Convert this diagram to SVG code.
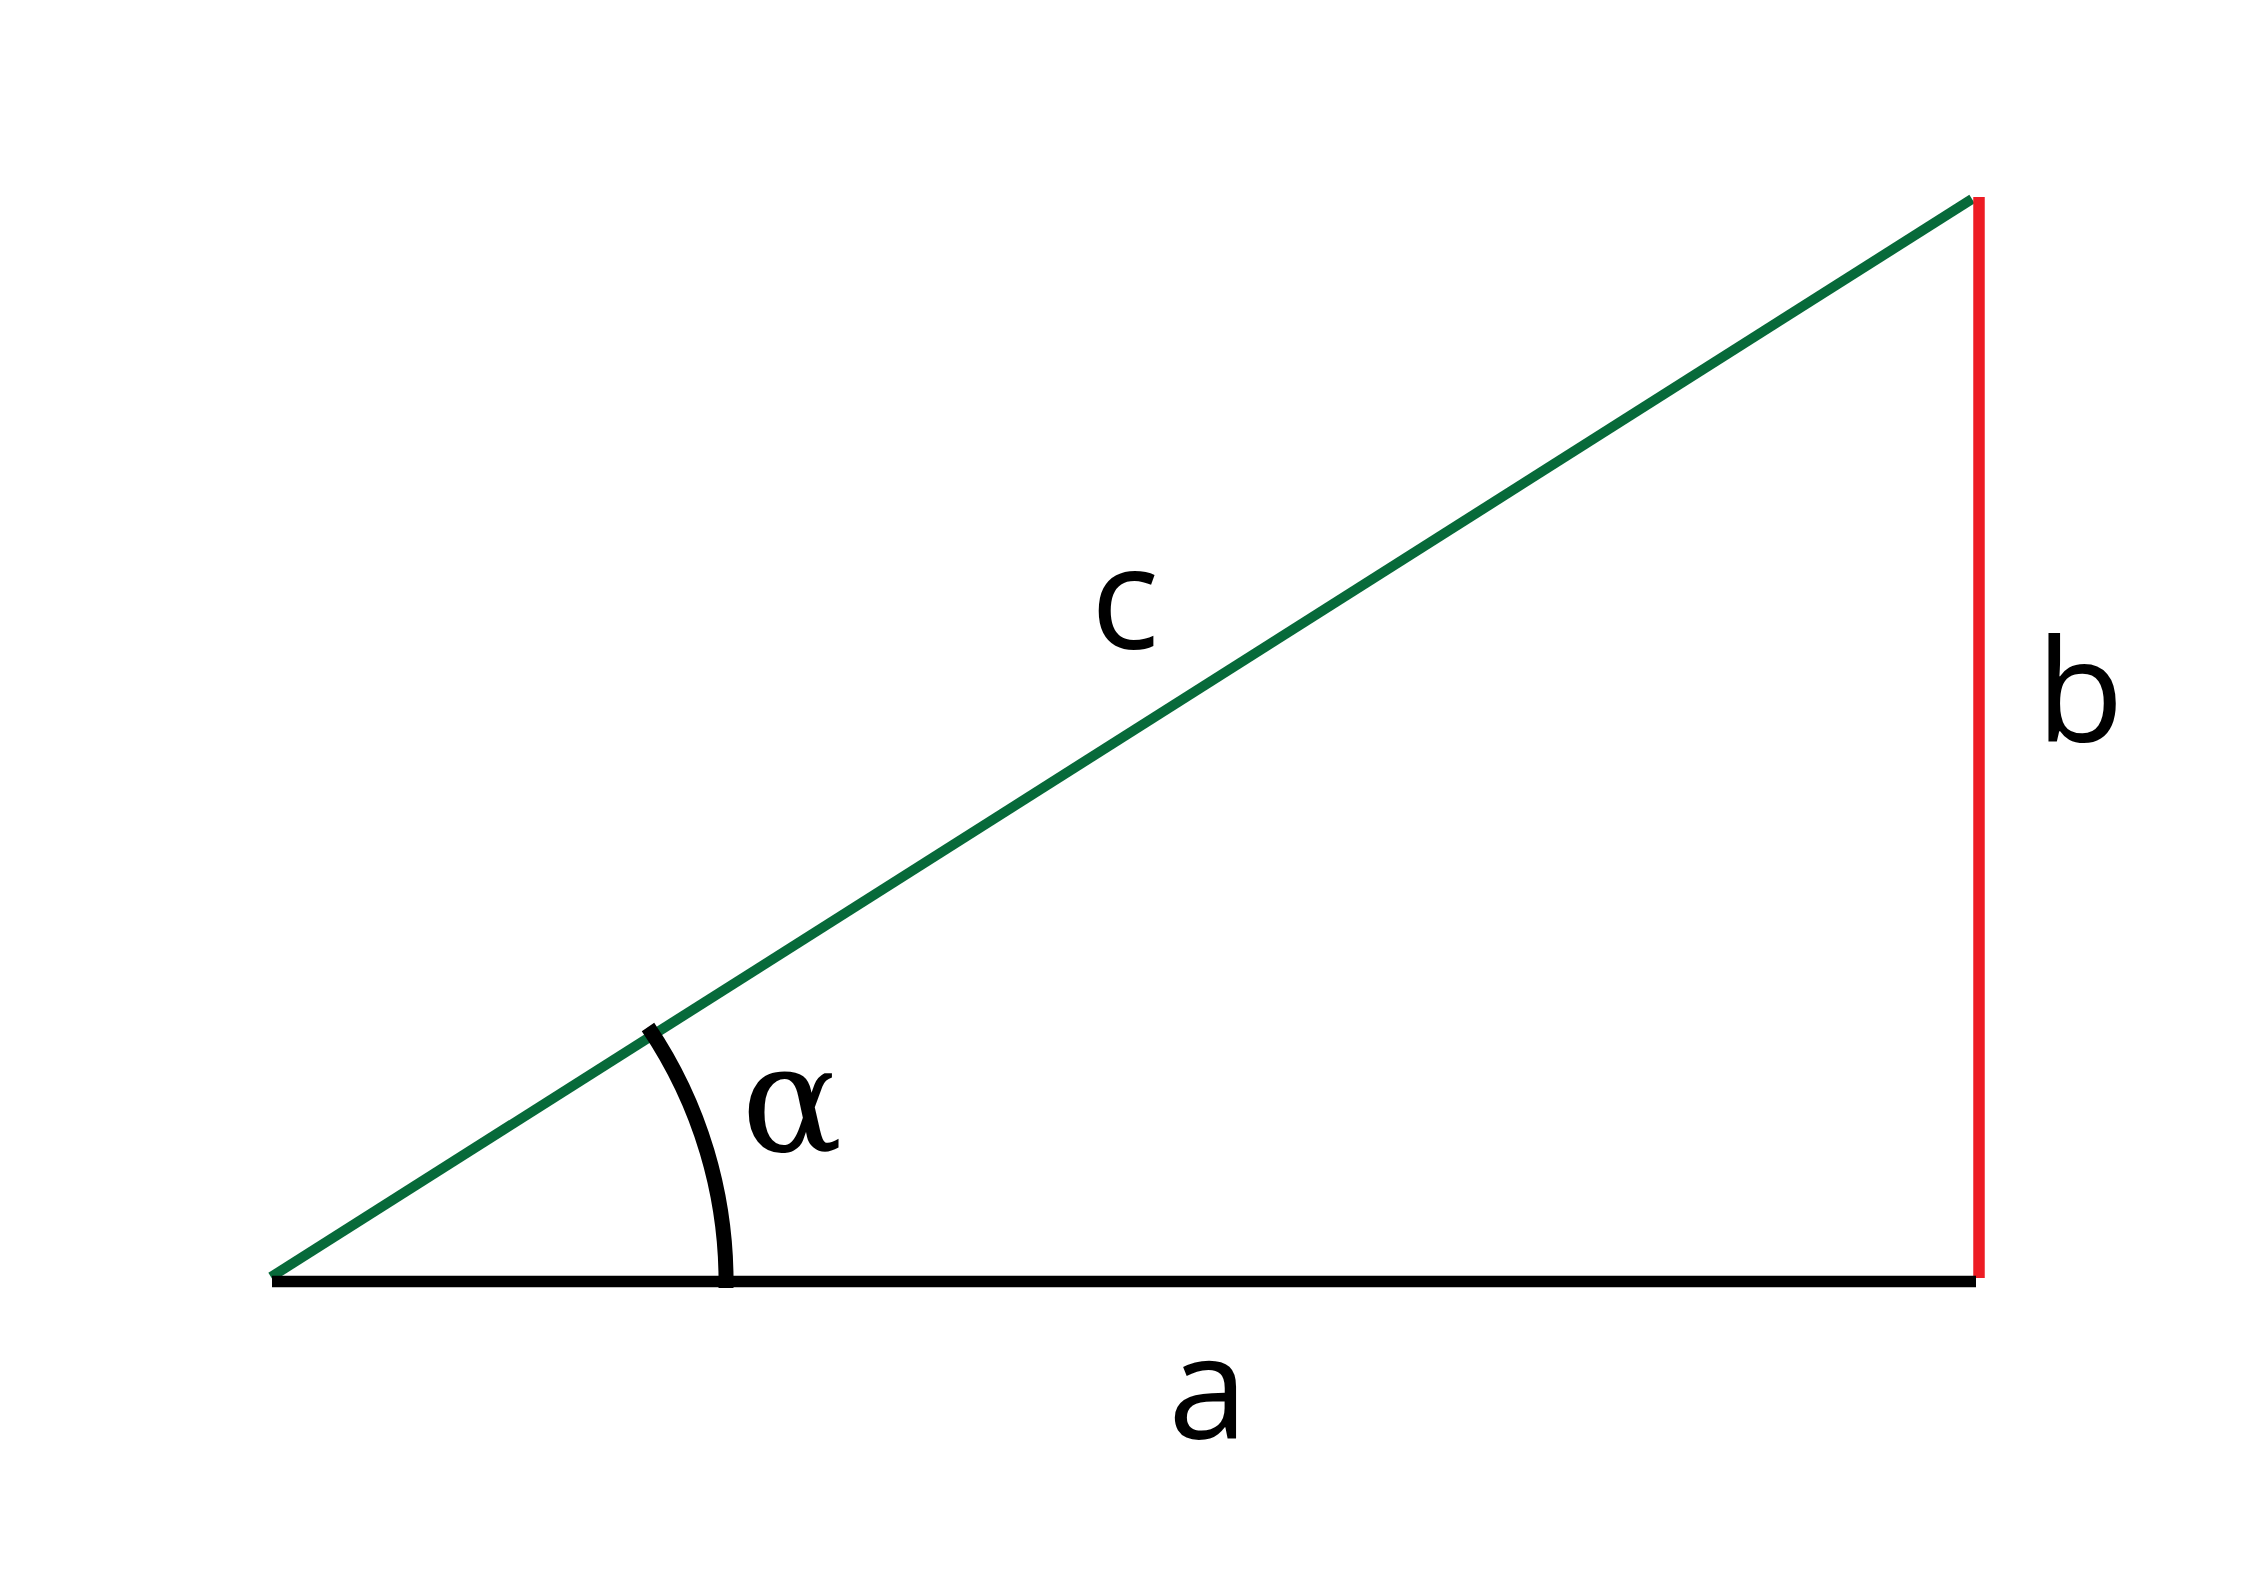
<svg xmlns="http://www.w3.org/2000/svg" width="2245" height="1587" viewBox="0 0 2245 1587">
<style>
.lbl{font-family:"Open Sans","Liberation Sans",sans-serif;font-size:143px;fill:#000;text-anchor:middle}
.greek{font-family:"DejaVu Serif","Liberation Serif",serif;font-size:150px;fill:#000}
.side{fill:none;stroke-linecap:butt}
</style>
<rect width="2245" height="1587" fill="#fff"/>
<g id="connectors">
<line id="side-c" class="side" x1="271" y1="1277" x2="1972" y2="199" stroke="#076a3a" stroke-width="10"/>
<line id="side-b" class="side" x1="1979" y1="197" x2="1979" y2="1278" stroke="#ed1c24" stroke-width="11.5"/>
<line id="side-a" class="side" x1="272" y1="1281.5" x2="1976" y2="1281.5" stroke="#000" stroke-width="11.5"/>
<path id="angle-arc" class="side" d="M648,1027 A454,454 0 0 1 726,1288" stroke="#000" stroke-width="15"/>
</g>
<g id="label-c"><text class="lbl" x="1125" y="649">c</text></g>
<g id="label-b"><text class="lbl" x="2080" y="742">b</text></g>
<g id="label-a"><text class="lbl" x="1208" y="1439">a</text></g>
<g id="label-alpha"><text class="greek" x="792" y="1151" text-anchor="middle">α</text></g>
</svg>
